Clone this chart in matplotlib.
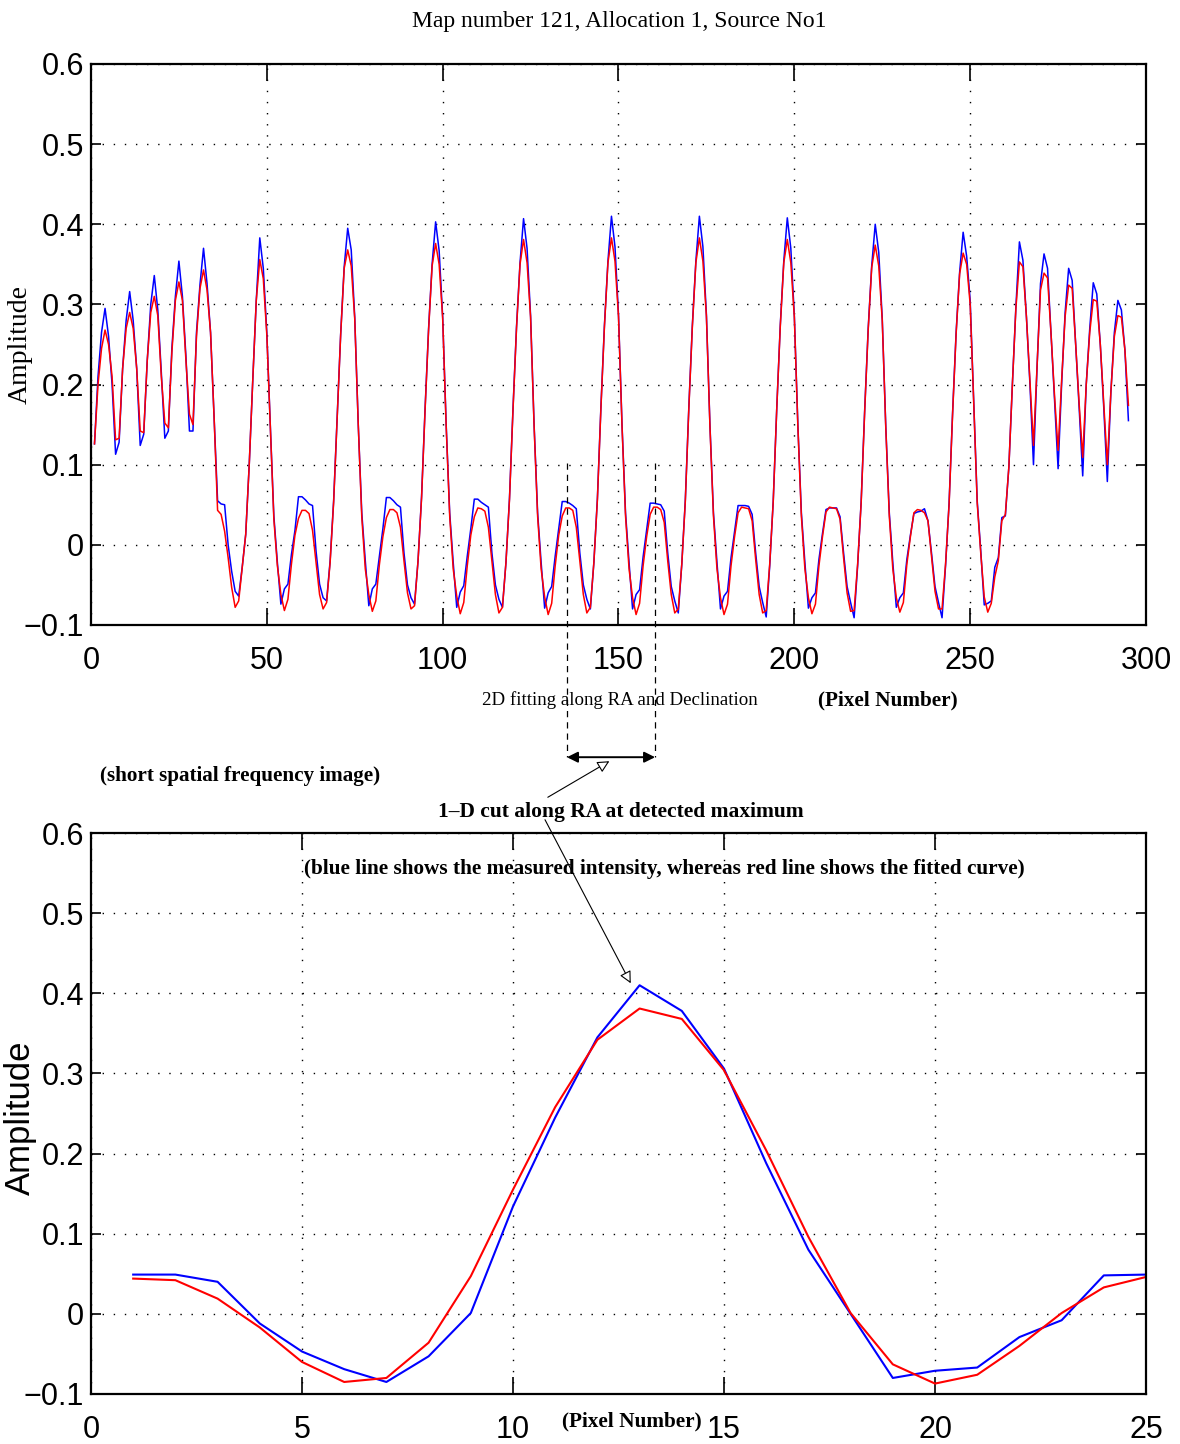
import matplotlib
matplotlib.use("Agg")
import matplotlib.pyplot as plt
from matplotlib import font_manager

# top panel: cut through the short spatial frequency map, pixels 1..295
pixel = list(range(1, 296))
measured = [
    0.126, 0.210, 0.265, 0.295, 0.260, 0.200, 0.113, 0.128, 0.220, 0.280,
    0.316, 0.280, 0.220, 0.124, 0.138, 0.230, 0.300, 0.336, 0.293, 0.215,
    0.133, 0.142, 0.245, 0.310, 0.354, 0.310, 0.235, 0.142, 0.142, 0.265,
    0.325, 0.370, 0.326, 0.265, 0.160, 0.055, 0.051, 0.050, 0.000, -0.033,
    -0.058, -0.064, -0.028, 0.013, 0.100, 0.205, 0.305,
    # 48..72
    0.383, 0.345, 0.265, 0.148, 0.036, -0.022, -0.074, -0.055, -0.049, -0.012,
    0.018, 0.060, 0.060, 0.056, 0.051, 0.049, -0.008, -0.049, -0.066, -0.070,
    -0.020, 0.055, 0.160, 0.263, 0.347,
    # 73..97
    0.395, 0.368, 0.284, 0.150, 0.040, -0.020, -0.076, -0.055, -0.049, -0.015,
    0.020, 0.059, 0.059, 0.055, 0.050, 0.047, -0.010, -0.050, -0.066, -0.074,
    -0.020, 0.060, 0.170, 0.270, 0.350,
    # 98..122
    0.403, 0.367, 0.285, 0.150, 0.040, -0.022, -0.078, -0.059, -0.051, -0.014,
    0.020, 0.057, 0.057, 0.053, 0.050, 0.047, -0.010, -0.050, -0.068, -0.078,
    -0.022, 0.058, 0.170, 0.272, 0.352,
    # 123..147
    0.407, 0.370, 0.286, 0.150, 0.040, -0.022, -0.079, -0.060, -0.052, -0.014,
    0.020, 0.054, 0.054, 0.052, 0.049, 0.045, -0.010, -0.050, -0.068, -0.080,
    -0.022, 0.058, 0.172, 0.274, 0.354,
    # 148..172
    0.410, 0.372, 0.287, 0.150, 0.040, -0.022, -0.080, -0.062, -0.056, -0.015,
    0.018, 0.052, 0.052, 0.051, 0.050, 0.042, -0.010, -0.052, -0.070, -0.085,
    -0.024, 0.056, 0.172, 0.274, 0.354,
    # 173..197
    0.410, 0.372, 0.287, 0.150, 0.040, -0.022, -0.080, -0.064, -0.058, -0.016,
    0.016, 0.049, 0.049, 0.049, 0.048, 0.038, -0.010, -0.052, -0.072, -0.090,
    -0.026, 0.055, 0.170, 0.274, 0.354,
    # 198..222
    0.408, 0.370, 0.286, 0.150, 0.040, -0.022, -0.079, -0.066, -0.060, -0.018,
    0.014, 0.044, 0.046, 0.046, 0.046, 0.035, -0.010, -0.052, -0.072, -0.091,
    -0.026, 0.054, 0.168, 0.270, 0.348,
    # 223..247
    0.400, 0.365, 0.282, 0.148, 0.040, -0.022, -0.078, -0.066, -0.060, -0.018,
    0.012, 0.039, 0.041, 0.042, 0.045, 0.030, -0.010, -0.052, -0.072, -0.091,
    -0.026, 0.052, 0.165, 0.265, 0.340,
    # 248..295
    0.390, 0.360, 0.305, 0.180, 0.055, -0.007, -0.075, -0.073, -0.070, -0.028,
    -0.016, 0.034, 0.036, 0.097, 0.200, 0.297, 0.378, 0.355, 0.284, 0.200,
    0.100, 0.220, 0.326, 0.363, 0.345, 0.263, 0.180, 0.095, 0.200, 0.290,
    0.345, 0.330, 0.250, 0.170, 0.086, 0.200, 0.270, 0.327, 0.313, 0.250,
    0.170, 0.079, 0.190, 0.265, 0.305, 0.293, 0.243, 0.155,
]
fitted = [
    0.126, 0.200, 0.245, 0.268, 0.250, 0.210, 0.131, 0.133, 0.220, 0.270,
    0.290, 0.270, 0.220, 0.142, 0.140, 0.230, 0.290, 0.310, 0.286, 0.210,
    0.152, 0.146, 0.240, 0.305, 0.328, 0.305, 0.230, 0.163, 0.150, 0.260,
    0.320, 0.343, 0.318, 0.265, 0.160, 0.043, 0.038, 0.017, -0.016, -0.053,
    -0.078, -0.070, -0.028, 0.013, 0.100, 0.205, 0.305,
    # 48..72
    0.356, 0.332, 0.262, 0.146, 0.032, -0.026, -0.062, -0.082, -0.068, -0.024,
    0.012, 0.033, 0.043, 0.043, 0.039, 0.018, -0.022, -0.062, -0.080, -0.072,
    -0.022, 0.053, 0.158, 0.262, 0.345,
    # 73..97
    0.368, 0.348, 0.282, 0.150, 0.035, -0.030, -0.062, -0.083, -0.070, -0.025,
    0.010, 0.034, 0.044, 0.044, 0.040, 0.022, -0.020, -0.060, -0.080, -0.076,
    -0.020, 0.058, 0.168, 0.268, 0.348,
    # 98..122
    0.376, 0.350, 0.283, 0.148, 0.036, -0.030, -0.064, -0.086, -0.072, -0.026,
    0.012, 0.035, 0.046, 0.045, 0.042, 0.022, -0.020, -0.062, -0.085, -0.078,
    -0.022, 0.056, 0.168, 0.270, 0.350,
    # 123..147
    0.381, 0.352, 0.284, 0.148, 0.036, -0.030, -0.065, -0.087, -0.073, -0.026,
    0.012, 0.036, 0.046, 0.046, 0.043, 0.022, -0.020, -0.062, -0.085, -0.078,
    -0.022, 0.056, 0.170, 0.272, 0.352,
    # 148..172
    0.383, 0.354, 0.285, 0.148, 0.036, -0.030, -0.066, -0.087, -0.073, -0.026,
    0.010, 0.038, 0.047, 0.047, 0.044, 0.028, -0.020, -0.062, -0.085, -0.080,
    -0.024, 0.054, 0.170, 0.272, 0.352,
    # 173..197
    0.383, 0.354, 0.285, 0.148, 0.036, -0.030, -0.066, -0.087, -0.074, -0.026,
    0.010, 0.040, 0.047, 0.046, 0.045, 0.030, -0.018, -0.062, -0.085, -0.082,
    -0.024, 0.054, 0.170, 0.272, 0.352,
    # 198..222
    0.381, 0.352, 0.284, 0.148, 0.036, -0.030, -0.066, -0.086, -0.074, -0.026,
    0.010, 0.041, 0.047, 0.046, 0.045, 0.032, -0.016, -0.060, -0.083, -0.082,
    -0.024, 0.052, 0.166, 0.268, 0.346,
    # 223..247
    0.374, 0.348, 0.280, 0.146, 0.036, -0.030, -0.066, -0.084, -0.072, -0.024,
    0.010, 0.040, 0.044, 0.043, 0.040, 0.030, -0.014, -0.058, -0.080, -0.080,
    -0.024, 0.050, 0.163, 0.263, 0.338,
    # 248..295
    0.364, 0.350, 0.300, 0.178, 0.052, -0.010, -0.065, -0.084, -0.073, -0.040,
    -0.020, 0.030, 0.038, 0.097, 0.200, 0.295, 0.353, 0.347, 0.284, 0.205,
    0.124, 0.222, 0.318, 0.339, 0.333, 0.263, 0.185, 0.118, 0.205, 0.285,
    0.324, 0.320, 0.250, 0.175, 0.109, 0.200, 0.265, 0.306, 0.304, 0.250,
    0.175, 0.100, 0.190, 0.260, 0.286, 0.284, 0.243, 0.174,
]

# bottom panel: 1-D cut along RA through the detected maximum
cut_pixel = list(range(1, 26))
cut_measured = [0.049, 0.049, 0.040, -0.012, -0.047, -0.069, -0.085, -0.053, 0.001, 0.134,
                0.245, 0.345, 0.410, 0.378, 0.306, 0.188, 0.080, 0.000, -0.080, -0.071,
                -0.067, -0.029, -0.008, 0.048, 0.049]
cut_fitted = [0.044, 0.042, 0.019, -0.017, -0.060, -0.085, -0.080, -0.036, 0.047, 0.155,
              0.258, 0.342, 0.381, 0.368, 0.304, 0.204, 0.096, 0.001, -0.063, -0.087,
              -0.076, -0.040, 0.001, 0.033, 0.046]

top_xticks = [0, 50, 100, 150, 200, 250, 300]
bottom_xticks = [0, 5, 10, 15, 20, 25]
yticks = [-0.1, 0.0, 0.1, 0.2, 0.3, 0.4, 0.5, 0.6]
ytick_labels = ["\u22120.1", "0", "0.1", "0.2", "0.3", "0.4", "0.5", "0.6"]

fit_window = (135.35, 160.4)   # pixels covered by the 2D fit

assert len(measured) == len(pixel) and len(fitted) == len(pixel)


def pick(*names):
    have = {f.name for f in font_manager.fontManager.ttflist}
    out = [n for n in names if n in have]
    return out + ["DejaVu Sans"]


SERIF = pick("Liberation Serif", "DejaVu Serif")
NARROW = pick("Liberation Sans Narrow", "Liberation Sans")
SANS = pick("Liberation Sans")


def style_axes(ax, xticks, xlim):
    ax.set_xlim(*xlim)
    ax.set_ylim(-0.1, 0.6)
    ax.set_xticks(xticks)
    ax.set_xticklabels([str(t) for t in xticks])
    ax.set_yticks(yticks)
    ax.set_yticklabels(ytick_labels)
    for lab in ax.get_xticklabels() + ax.get_yticklabels():
        lab.set_family(NARROW)
        lab.set_fontsize(22)
    ax.tick_params(axis="both", direction="in", top=True, right=True, width=1.2)
    ax.tick_params(axis="x", length=12, pad=15)
    ax.tick_params(axis="y", length=7.5, pad=5)
    ax.grid(True, color="black", linestyle=(0, (1, 7)), linewidth=1.0)
    for sp in ax.spines.values():
        sp.set_linewidth(1.6)


fig = plt.figure(figsize=(11.8, 14.44), dpi=100)
ax1 = fig.add_axes([0.0771, 0.5672, 0.8941, 0.3885])
ax2 = fig.add_axes([0.0771, 0.03463, 0.8941, 0.3885])

ax1.plot(pixel, measured, color="blue", lw=1.1)
ax1.plot(pixel, fitted, color="red", lw=1.1)
style_axes(ax1, top_xticks, (0, 300))

ax2.plot(cut_pixel, cut_measured, color="blue", lw=1.5)
ax2.plot(cut_pixel, cut_fitted, color="red", lw=1.5)
style_axes(ax2, bottom_xticks, (0, 25))

# fitting window marked below the top panel
y_lo = -0.265
for xv in fit_window:
    ax1.plot([xv, xv], [0.102, y_lo], color="black", lw=0.9,
             linestyle=(0, (5, 4)), clip_on=False)
ax1.annotate("", xy=(fit_window[0], y_lo), xytext=(fit_window[1], y_lo),
             arrowprops=dict(arrowstyle="<|-|>", color="black", lw=1.4,
                             mutation_scale=16, shrinkA=0, shrinkB=0),
             annotation_clip=False)
ax1.annotate("", xy=(147.4, -0.27), xytext=(129.9, -0.315),
             arrowprops=dict(arrowstyle="-|>", fc="white", ec="black", lw=0.8,
                             mutation_scale=18, shrinkA=0, shrinkB=0),
             annotation_clip=False)
ax2.annotate("", xy=(12.79, 0.4125), xytext=(129.1, -0.343), textcoords=ax1.transData,
             arrowprops=dict(arrowstyle="-|>", fc="white", ec="black", lw=0.8,
                             mutation_scale=18, shrinkA=0, shrinkB=0),
             annotation_clip=False)

W, H = 1180.0, 1444.0


def label(px, py, s, **kw):
    fig.text(px / W, 1 - py / H, s, ha="center", va="center", **kw)


label(619, 22, "Map number 121, Allocation 1, Source No1", family=SERIF, fontsize=17)
label(620, 700, "2D fitting along RA and Declination", family=SERIF, fontsize=13.6)
label(888, 700, "(Pixel Number)", family=SERIF, fontsize=15.3, weight="bold")
label(240, 776, "(short spatial frequency image)", family=SERIF, fontsize=15.2, weight="bold")
label(621, 812, "1\u2013D cut along RA at detected maximum", family=SERIF, fontsize=15.5,
      weight="bold")
label(664, 869, "(blue line shows the measured intensity, whereas red line shows the fitted curve)",
      family=SERIF, fontsize=15.3, weight="bold")
label(632, 1421, "(Pixel Number)", family=SERIF, fontsize=15.3, weight="bold")
label(20, 345, "Amplitude", family=SERIF, fontsize=20, rotation=90)
label(20, 1118, "Amplitude", family=SANS, fontsize=25, rotation=90)

fig.savefig("out.png", dpi=100)
